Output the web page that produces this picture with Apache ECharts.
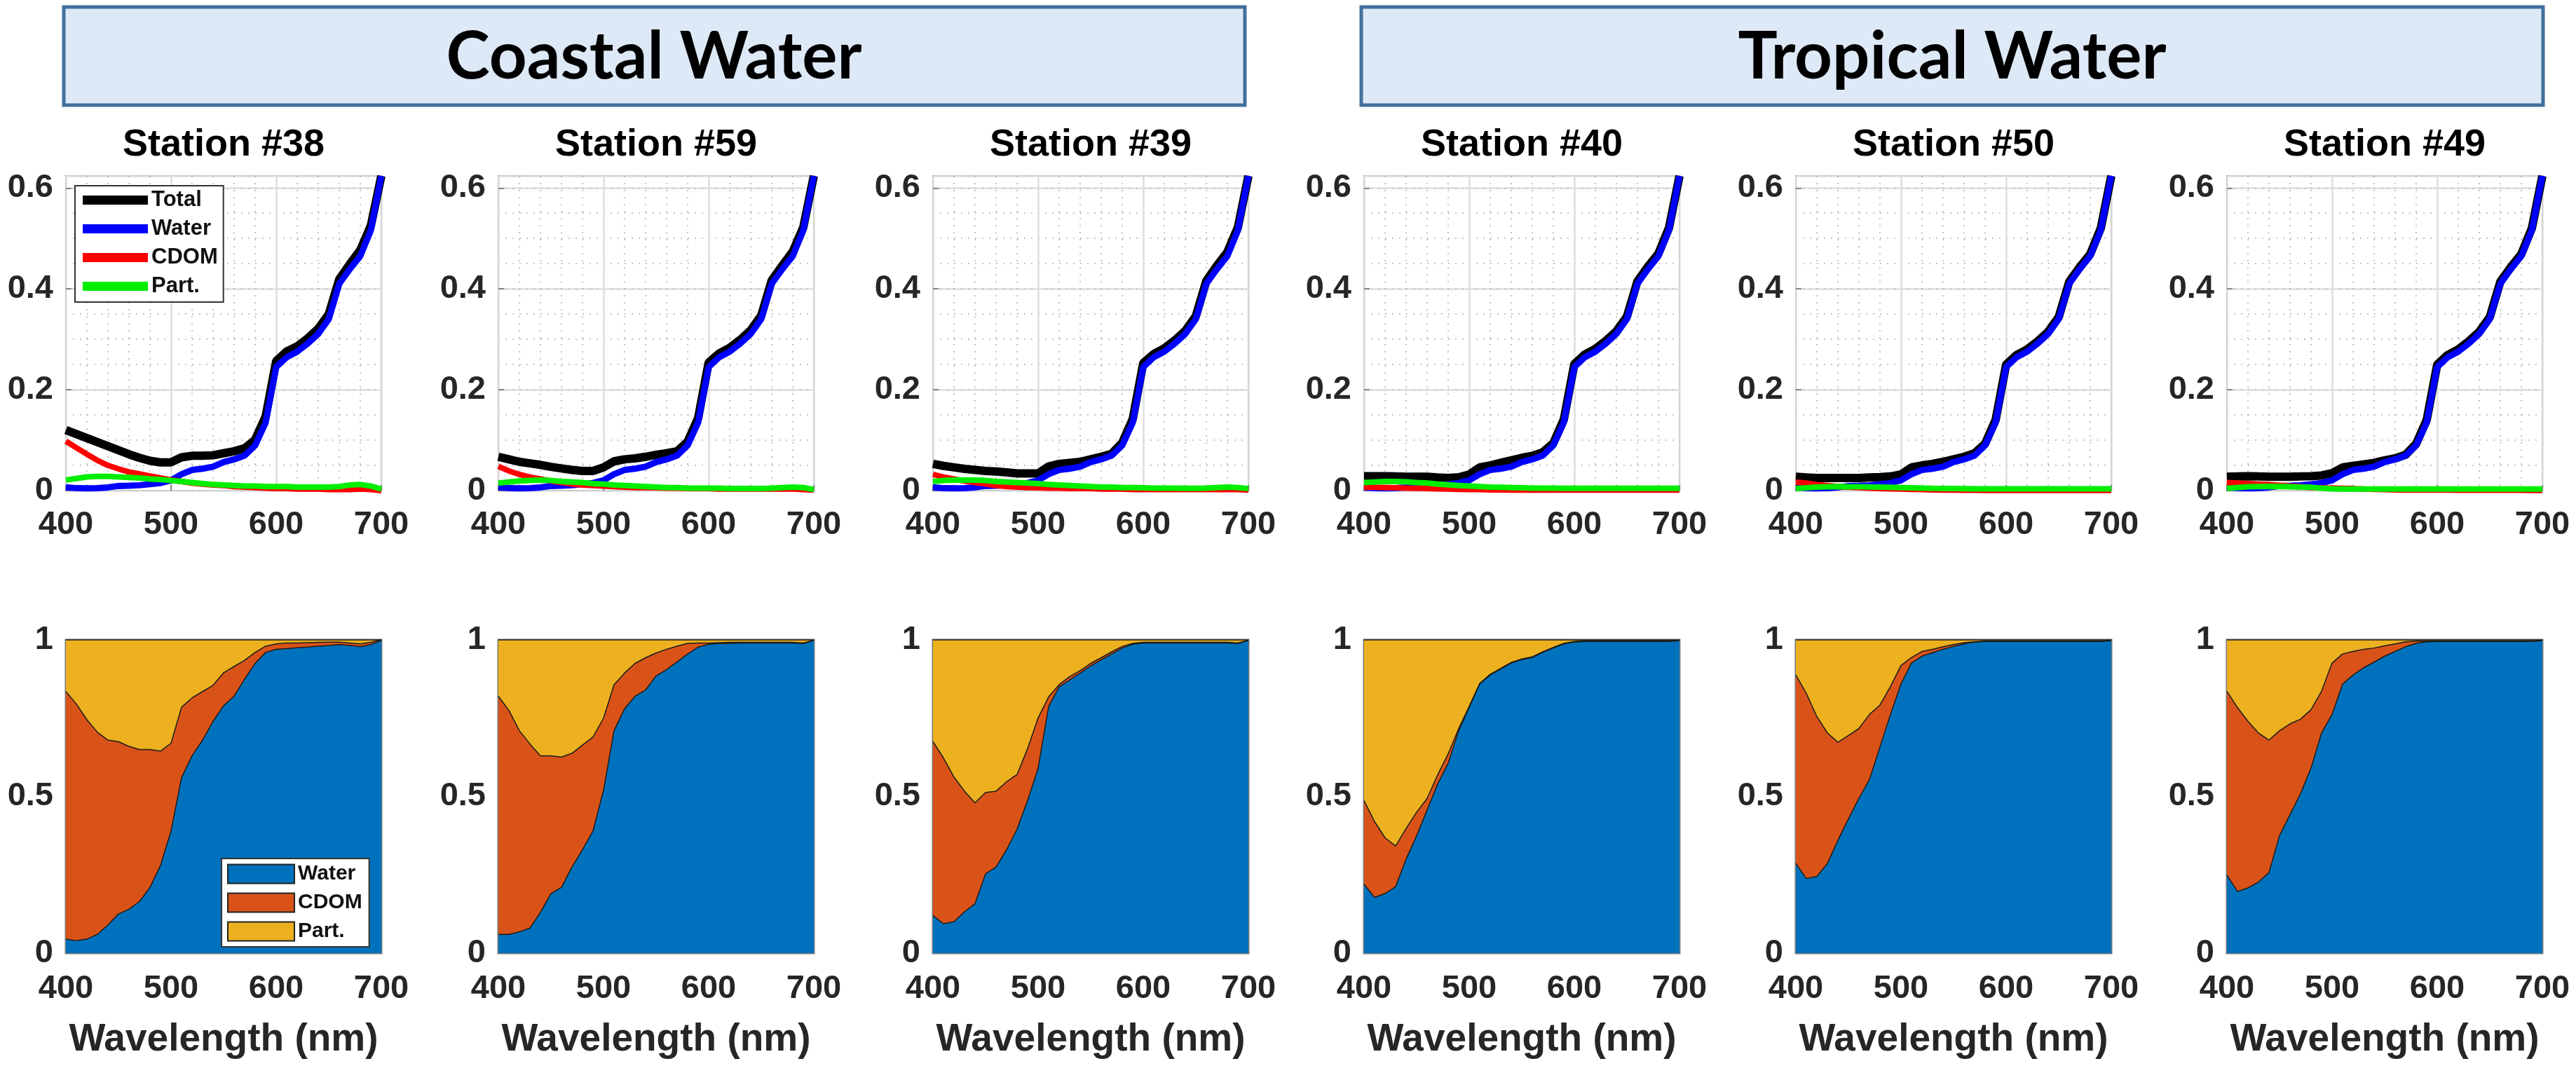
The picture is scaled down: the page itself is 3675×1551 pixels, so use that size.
<!DOCTYPE html>
<html>
<head>
<meta charset="utf-8">
<title>Absorption budget - coastal and tropical stations</title>
<script src="https://cdn.jsdelivr.net/npm/echarts@6/dist/echarts.min.js"></script>
<style>
  html, body { margin: 0; padding: 0; background: #fff; }
  #chart { width: 3675px; height: 1551px; }
</style>
</head>
<body>
<div id="chart"></div>
<script>
// wavelength grid (nm)
var wavelengths = [400, 410, 420, 430, 440, 450, 460, 470, 480, 490, 500, 510, 520, 530, 540, 550,
                   560, 570, 580, 590, 600, 610, 620, 630, 640, 650, 660, 670, 680, 690, 700];

var stationNames = ['Station #38', 'Station #59', 'Station #39', 'Station #40', 'Station #50', 'Station #49'];
var groupNames = ['Coastal Water', 'Tropical Water'];

// pure water absorption (same in every panel)
var waterAbs = [0.0066, 0.0047, 0.0045, 0.0050, 0.0064, 0.0092, 0.0098, 0.0106, 0.0127, 0.0150, 0.0204,
                0.0325, 0.0409, 0.0434, 0.0474, 0.0565, 0.0619, 0.0695, 0.0896, 0.1351, 0.2450, 0.2644,
                0.2755, 0.2916, 0.3108, 0.3400, 0.4100, 0.4390, 0.4650, 0.5160, 0.6240];

// ---- top row: absorption ----
var total38 = [0.120, 0.112, 0.104, 0.096, 0.088, 0.080, 0.072, 0.065, 0.059, 0.056, 0.056, 0.066, 0.069, 0.069, 0.070, 0.074,
               0.078, 0.084, 0.101, 0.147, 0.257, 0.276, 0.286, 0.302, 0.321, 0.350, 0.419, 0.449, 0.477, 0.525, 0.624];
var cdom38 = [0.098, 0.085, 0.072, 0.060, 0.050, 0.043, 0.037, 0.033, 0.029, 0.025, 0.021, 0.018, 0.015, 0.013, 0.011, 0.010,
              0.008, 0.007, 0.006, 0.005, 0.004, 0.004, 0.003, 0.003, 0.003, 0.002, 0.002, 0.002, 0.003, 0.002, 0.000];
var part38 = [0.021, 0.024, 0.027, 0.028, 0.028, 0.027, 0.026, 0.025, 0.023, 0.022, 0.020, 0.018, 0.016, 0.014, 0.012, 0.011,
              0.010, 0.009, 0.009, 0.008, 0.008, 0.008, 0.007, 0.007, 0.007, 0.007, 0.008, 0.011, 0.012, 0.009, 0.003];

var total59 = [0.067, 0.062, 0.057, 0.054, 0.051, 0.047, 0.044, 0.041, 0.039, 0.039, 0.046, 0.058, 0.062, 0.064, 0.067, 0.071,
               0.074, 0.078, 0.097, 0.144, 0.254, 0.272, 0.283, 0.299, 0.318, 0.347, 0.417, 0.446, 0.474, 0.522, 0.624];
var cdom59 = [0.048, 0.039, 0.032, 0.027, 0.023, 0.019, 0.016, 0.013, 0.011, 0.010, 0.009, 0.008, 0.007, 0.006, 0.006, 0.0055,
              0.005, 0.005, 0.004, 0.004, 0.004, 0.003, 0.003, 0.003, 0.003, 0.003, 0.003, 0.003, 0.003, 0.002, 0.001];
var part59 = [0.015, 0.017, 0.019, 0.020, 0.021, 0.020, 0.018, 0.017, 0.016, 0.014, 0.013, 0.011, 0.010, 0.009, 0.008, 0.007,
              0.006, 0.006, 0.005, 0.005, 0.005, 0.005, 0.004, 0.004, 0.004, 0.004, 0.005, 0.006, 0.007, 0.006, 0.002];

var total39 = [0.053, 0.049, 0.046, 0.043, 0.041, 0.039, 0.038, 0.036, 0.034, 0.034, 0.034, 0.048, 0.053, 0.055, 0.057, 0.062,
               0.067, 0.073, 0.095, 0.142, 0.253, 0.271, 0.282, 0.298, 0.317, 0.346, 0.416, 0.446, 0.473, 0.522, 0.624];
var cdom39 = [0.032, 0.027, 0.023, 0.019, 0.016, 0.013, 0.010, 0.008, 0.007, 0.006, 0.0055, 0.005, 0.005, 0.004, 0.004, 0.004,
              0.003, 0.003, 0.003, 0.002, 0.002, 0.002, 0.002, 0.002, 0.002, 0.002, 0.002, 0.002, 0.002, 0.002, 0.001];
var part39 = [0.018, 0.020, 0.021, 0.021, 0.021, 0.020, 0.018, 0.017, 0.016, 0.015, 0.014, 0.012, 0.011, 0.010, 0.009, 0.008,
              0.007, 0.007, 0.006, 0.006, 0.0055, 0.005, 0.005, 0.005, 0.0045, 0.0045, 0.005, 0.006, 0.007, 0.006, 0.004];

var total40 = [0.0285, 0.0285, 0.0285, 0.028, 0.0276, 0.0276, 0.0276, 0.026, 0.025, 0.0265, 0.032, 0.046, 0.050, 0.055, 0.060, 0.065,
               0.069, 0.076, 0.094, 0.141, 0.251, 0.270, 0.281, 0.297, 0.316, 0.345, 0.415, 0.444, 0.470, 0.521, 0.624];
var cdom40 = [0.007, 0.0065, 0.006, 0.0055, 0.005, 0.0045, 0.004, 0.0035, 0.003, 0.0025, 0.002, 0.002, 0.0015, 0.0015, 0.001, 0.001,
              0.001, 0.001, 0.001, 0.001, 0.001, 0.001, 0.001, 0.001, 0.001, 0.001, 0.001, 0.001, 0.001, 0.001, 0.001];
var part40 = [0.016, 0.017, 0.018, 0.018, 0.0175, 0.016, 0.015, 0.013, 0.0115, 0.010, 0.009, 0.008, 0.007, 0.0065, 0.006, 0.0055,
              0.005, 0.005, 0.0048, 0.0046, 0.0046, 0.0046, 0.0046, 0.0046, 0.0046, 0.0046, 0.0046, 0.0046, 0.0046, 0.0046, 0.0046];

var total50 = [0.0276, 0.026, 0.025, 0.025, 0.025, 0.025, 0.025, 0.026, 0.0267, 0.028, 0.032, 0.046, 0.050, 0.053, 0.057, 0.062,
               0.067, 0.074, 0.093, 0.140, 0.250, 0.269, 0.280, 0.296, 0.315, 0.344, 0.414, 0.443, 0.469, 0.520, 0.624];
var cdom50 = [0.0166, 0.015, 0.012, 0.010, 0.008, 0.007, 0.006, 0.005, 0.004, 0.0035, 0.003, 0.0025, 0.002, 0.0015, 0.0012, 0.001,
              0.0008, 0.0006, 0.0005, 0.0005, 0.0005, 0.0005, 0.0005, 0.0005, 0.0005, 0.0005, 0.0005, 0.0005, 0.0005, 0.0005, 0.0005];
var part50 = [0.004, 0.0055, 0.007, 0.0078, 0.008, 0.0078, 0.0075, 0.0072, 0.007, 0.0065, 0.006, 0.0055, 0.005, 0.0045, 0.0042, 0.004,
              0.0038, 0.0036, 0.0035, 0.0035, 0.0035, 0.0035, 0.0035, 0.0035, 0.0035, 0.0035, 0.0035, 0.0035, 0.0035, 0.0035, 0.0035];

var total49 = [0.0276, 0.028, 0.0285, 0.028, 0.0276, 0.0276, 0.0276, 0.028, 0.0285, 0.030, 0.0345, 0.046, 0.049, 0.052, 0.055, 0.060,
               0.064, 0.071, 0.093, 0.140, 0.250, 0.269, 0.280, 0.296, 0.315, 0.344, 0.414, 0.443, 0.469, 0.520, 0.624];
var cdom49 = [0.016, 0.015, 0.014, 0.013, 0.012, 0.0105, 0.009, 0.0075, 0.006, 0.0055, 0.005, 0.0045, 0.004, 0.003, 0.0025, 0.002,
              0.0015, 0.0012, 0.001, 0.001, 0.001, 0.001, 0.0008, 0.0008, 0.0008, 0.0006, 0.0006, 0.0006, 0.0006, 0.0005, 0.0005];
var part49 = [0.0045, 0.006, 0.0075, 0.008, 0.0085, 0.008, 0.0075, 0.007, 0.0065, 0.005, 0.0035, 0.0032, 0.003, 0.003, 0.003, 0.003,
              0.003, 0.003, 0.003, 0.003, 0.003, 0.003, 0.003, 0.003, 0.003, 0.003, 0.003, 0.003, 0.003, 0.003, 0.003];

// ---- bottom row: fraction of total absorption ----
var waterFrac38 = [0.045, 0.040, 0.045, 0.060, 0.090, 0.125, 0.140, 0.165, 0.210, 0.280, 0.390, 0.560, 0.630, 0.680, 0.740, 0.790,
                   0.820, 0.875, 0.925, 0.960, 0.970, 0.972, 0.975, 0.977, 0.980, 0.982, 0.985, 0.982, 0.978, 0.985, 0.998];
var cdomFrac38 = [0.790, 0.755, 0.700, 0.645, 0.590, 0.550, 0.520, 0.485, 0.440, 0.365, 0.280, 0.225, 0.185, 0.155, 0.115, 0.105,
                  0.095, 0.060, 0.035, 0.020, 0.017, 0.018, 0.015, 0.014, 0.012, 0.011, 0.008, 0.008, 0.009, 0.007, 0.002];
var partFrac38 = [0.165, 0.205, 0.255, 0.295, 0.320, 0.325, 0.340, 0.350, 0.350, 0.355, 0.330, 0.215, 0.185, 0.165, 0.145, 0.105,
                  0.085, 0.065, 0.040, 0.020, 0.013, 0.010, 0.010, 0.009, 0.008, 0.007, 0.007, 0.010, 0.013, 0.008, 0.000];

var waterFrac59 = [0.060, 0.060, 0.068, 0.080, 0.130, 0.190, 0.210, 0.275, 0.330, 0.390, 0.520, 0.710, 0.780, 0.820, 0.840, 0.885,
                   0.905, 0.930, 0.955, 0.977, 0.986, 0.988, 0.989, 0.990, 0.990, 0.990, 0.990, 0.990, 0.990, 0.988, 0.998];
var cdomFrac59 = [0.760, 0.715, 0.642, 0.588, 0.500, 0.440, 0.416, 0.363, 0.334, 0.300, 0.230, 0.147, 0.114, 0.105, 0.103, 0.073,
                  0.065, 0.050, 0.034, 0.013, 0.004, 0.003, 0.003, 0.002, 0.002, 0.002, 0.002, 0.002, 0.002, 0.002, 0.001];
var partFrac59 = [0.180, 0.225, 0.290, 0.332, 0.370, 0.370, 0.374, 0.362, 0.336, 0.310, 0.250, 0.143, 0.106, 0.075, 0.057, 0.042,
                  0.030, 0.020, 0.011, 0.010, 0.010, 0.009, 0.008, 0.008, 0.008, 0.008, 0.008, 0.008, 0.008, 0.010, 0.001];

var waterFrac39 = [0.120, 0.094, 0.100, 0.132, 0.158, 0.253, 0.275, 0.330, 0.396, 0.487, 0.590, 0.787, 0.850, 0.872, 0.894, 0.917,
                   0.936, 0.955, 0.974, 0.986, 0.990, 0.990, 0.990, 0.990, 0.990, 0.990, 0.990, 0.990, 0.990, 0.988, 0.998];
var cdomFrac39 = [0.555, 0.529, 0.462, 0.385, 0.322, 0.260, 0.242, 0.217, 0.174, 0.166, 0.161, 0.031, 0.007, 0.011, 0.008, 0.008,
                  0.007, 0.007, 0.005, 0.003, 0.002, 0.002, 0.002, 0.002, 0.002, 0.002, 0.002, 0.002, 0.002, 0.002, 0.001];
var partFrac39 = [0.325, 0.377, 0.438, 0.483, 0.520, 0.487, 0.483, 0.453, 0.430, 0.347, 0.249, 0.182, 0.143, 0.117, 0.098, 0.075,
                  0.057, 0.038, 0.021, 0.011, 0.008, 0.008, 0.008, 0.008, 0.008, 0.008, 0.008, 0.008, 0.008, 0.010, 0.001];

var waterFrac40 = [0.220, 0.178, 0.190, 0.212, 0.300, 0.375, 0.457, 0.540, 0.606, 0.710, 0.784, 0.859, 0.888, 0.907, 0.926, 0.937,
                   0.944, 0.960, 0.974, 0.987, 0.993, 0.995, 0.995, 0.995, 0.995, 0.995, 0.995, 0.995, 0.995, 0.995, 0.998];
var cdomFrac40 = [0.267, 0.242, 0.178, 0.130, 0.098, 0.075, 0.037, 0.029, 0.030, 0.007, 0.004, 0.002, 0.002, 0.002, 0.002, 0.002,
                  0.002, 0.002, 0.002, 0.002, 0.002, 0.002, 0.002, 0.002, 0.002, 0.002, 0.002, 0.002, 0.002, 0.002, 0.001];
var partFrac40 = [0.513, 0.580, 0.632, 0.658, 0.602, 0.550, 0.506, 0.431, 0.364, 0.283, 0.212, 0.139, 0.110, 0.091, 0.072, 0.061,
                  0.054, 0.038, 0.024, 0.011, 0.005, 0.003, 0.003, 0.003, 0.003, 0.003, 0.003, 0.003, 0.003, 0.003, 0.001];

var waterFrac50 = [0.286, 0.238, 0.245, 0.286, 0.360, 0.428, 0.494, 0.554, 0.658, 0.762, 0.859, 0.926, 0.948, 0.959, 0.970, 0.979,
                   0.987, 0.993, 0.995, 0.995, 0.995, 0.995, 0.995, 0.995, 0.995, 0.995, 0.995, 0.995, 0.995, 0.995, 0.998];
var cdomFrac50 = [0.602, 0.591, 0.510, 0.417, 0.313, 0.267, 0.223, 0.208, 0.134, 0.089, 0.059, 0.018, 0.015, 0.011, 0.008, 0.006,
                  0.004, 0.001, 0.001, 0.001, 0.001, 0.001, 0.001, 0.001, 0.001, 0.001, 0.001, 0.001, 0.001, 0.001, 0.001];
var partFrac50 = [0.112, 0.171, 0.245, 0.297, 0.327, 0.305, 0.283, 0.238, 0.208, 0.149, 0.082, 0.056, 0.037, 0.030, 0.022, 0.015,
                  0.009, 0.006, 0.004, 0.004, 0.004, 0.004, 0.004, 0.004, 0.004, 0.004, 0.004, 0.004, 0.004, 0.004, 0.001];

var waterFrac49 = [0.249, 0.197, 0.208, 0.227, 0.257, 0.375, 0.442, 0.509, 0.591, 0.703, 0.762, 0.859, 0.888, 0.911, 0.929, 0.948,
                   0.963, 0.978, 0.989, 0.994, 0.995, 0.995, 0.995, 0.995, 0.995, 0.995, 0.995, 0.995, 0.995, 0.995, 0.998];
var cdomFrac49 = [0.587, 0.587, 0.532, 0.476, 0.423, 0.335, 0.290, 0.238, 0.186, 0.133, 0.164, 0.096, 0.075, 0.059, 0.045, 0.033,
                  0.024, 0.016, 0.007, 0.002, 0.001, 0.001, 0.001, 0.001, 0.001, 0.001, 0.001, 0.001, 0.001, 0.001, 0.001];
var partFrac49 = [0.164, 0.216, 0.260, 0.297, 0.320, 0.290, 0.268, 0.253, 0.223, 0.164, 0.074, 0.045, 0.037, 0.030, 0.026, 0.019,
                  0.013, 0.006, 0.004, 0.004, 0.004, 0.004, 0.004, 0.004, 0.004, 0.004, 0.004, 0.004, 0.004, 0.004, 0.001];

var absYTicks = [0, 0.2, 0.4, 0.6];
var xTicks = [400, 500, 600, 700];

var totalAbs = [total38, total59, total39, total40, total50, total49];
var cdomAbs = [cdom38, cdom59, cdom39, cdom40, cdom50, cdom49];
var partAbs = [part38, part59, part39, part40, part50, part49];
var waterFrac = [waterFrac38, waterFrac59, waterFrac39, waterFrac40, waterFrac50, waterFrac49];
var cdomFrac = [cdomFrac38, cdomFrac59, cdomFrac39, cdomFrac40, cdomFrac50, cdomFrac49];
var partFrac = [partFrac38, partFrac59, partFrac39, partFrac40, partFrac50, partFrac49];

var chart = echarts.init(document.getElementById('chart'));
var font = '"Liberation Sans", Arial, sans-serif';
var gridLeft = [94, 711, 1331, 1946, 2562, 3177];
var plotW = 450;
var absMax = 0.624;

function pairs(ys) {
    return wavelengths.map(function (w, i) { return [w, ys[i]]; });
}

var labelStyle = { fontFamily: font, fontSize: 47, fontWeight: 'bold', color: '#262626' };

var grids = [], xAxes = [], yAxes = [], series = [], graphics = [];

// header boxes
graphics.push({ type: 'rect', shape: { x: 91, y: 10, width: 1685, height: 140 },
    style: { fill: '#dde9f6', stroke: '#41719c', lineWidth: 5 } });
graphics.push({ type: 'rect', shape: { x: 1942, y: 10, width: 1686, height: 140 },
    style: { fill: '#dde9f6', stroke: '#41719c', lineWidth: 5 } });
graphics.push({ type: 'text', x: 933, y: 82,
    style: { text: groupNames[0], fill: '#000', font: 'bold 94px Lato, "Open Sans", sans-serif', align: 'center', verticalAlign: 'middle' } });
graphics.push({ type: 'text', x: 2785, y: 82,
    style: { text: groupNames[1], fill: '#000', font: 'bold 94px Lato, "Open Sans", sans-serif', align: 'center', verticalAlign: 'middle' } });

for (var i = 0; i < 6; i++) {
    var absIdx = 2 * i, fracIdx = 2 * i + 1;

    graphics.push({ type: 'text', x: gridLeft[i] + plotW / 2, y: 207,
        style: { text: stationNames[i], fill: '#000', font: 'bold 54px ' + font, align: 'center', verticalAlign: 'middle' } });

    // absorption panel
    grids.push({ left: gridLeft[i], top: 251, width: plotW, height: 449,
        show: true, borderColor: '#8a8a8a', borderWidth: 2, backgroundColor: '#fff' });
    // fraction panel
    grids.push({ left: gridLeft[i], top: 913, width: plotW, height: 447,
        show: true, borderColor: '#7a7a7a', borderWidth: 3, backgroundColor: '#fff' });

    xAxes.push({
        gridIndex: absIdx, type: 'value', min: 400, max: 700, interval: 100,
        axisLine: { show: false },
        axisTick: { show: true, inside: true, length: 8, lineStyle: { color: '#888', width: 2 } },
        splitLine: { show: true, lineStyle: { color: '#dedede', width: 2.5 } },
        minorTick: { show: false, splitNumber: 5 },
        minorSplitLine: { show: true, lineStyle: { color: '#c4c4c4', width: 2, type: [2, 8] } },
        axisLabel: Object.assign({ margin: 26 }, labelStyle)
    });
    // category axis so the three fraction layers stack on the value axis
    xAxes.push({
        gridIndex: fracIdx, type: 'category', data: wavelengths, boundaryGap: false,
        axisLine: { show: false }, axisTick: { show: false }, splitLine: { show: false },
        axisLabel: Object.assign({ margin: 28, interval: function (idx, val) { return xTicks.indexOf(+val) >= 0; } }, labelStyle),
        name: 'Wavelength (nm)', nameLocation: 'middle', nameGap: 96,
        nameTextStyle: { fontFamily: font, fontSize: 55, fontWeight: 'bold', color: '#262626' }
    });

    yAxes.push({
        gridIndex: absIdx, type: 'value', min: 0, max: absMax, interval: 0.2,
        axisLine: { show: false },
        axisTick: { show: true, inside: true, length: 8, lineStyle: { color: '#888', width: 2 } },
        splitLine: { show: true, lineStyle: { color: '#dedede', width: 2.5 } },
        axisLabel: Object.assign({ margin: 18, showMaxLabel: false,
            formatter: function (v) { var r = Math.round(v * 10) / 10; return absYTicks.indexOf(r) >= 0 && Math.abs(v - r) < 1e-6 ? String(r) : ''; } }, labelStyle)
    });
    // helper axis carrying the dotted minor grid every 0.05
    yAxes.push({
        gridIndex: absIdx, type: 'value', min: 0, max: absMax, interval: 0.05, position: 'left',
        axisLine: { show: false }, axisTick: { show: false }, axisLabel: { show: false },
        splitLine: { show: true, lineStyle: { color: '#c4c4c4', width: 2, type: [2, 8] } }
    });
    yAxes.push({
        gridIndex: fracIdx, type: 'value', min: 0, max: 1, interval: 0.5,
        axisLine: { show: false }, axisTick: { show: false }, splitLine: { show: false },
        axisLabel: Object.assign({ margin: 18, formatter: function (v) { return String(v); } }, labelStyle)
    });

    var lines = [
        { name: 'Total', data: totalAbs[i], color: '#000000', width: 12 },
        { name: 'Water', data: waterAbs, color: '#0000ff', width: 9 },
        { name: 'CDOM', data: cdomAbs[i], color: '#ff0000', width: 8 },
        { name: 'Part.', data: partAbs[i], color: '#00ee00', width: 8 }
    ];
    lines.forEach(function (l) {
        series.push({
            name: l.name, type: 'line', xAxisIndex: absIdx, yAxisIndex: 3 * i,
            data: pairs(l.data), symbol: 'none', silent: true,
            lineStyle: { color: l.color, width: l.width },
            itemStyle: { color: l.color }
        });
    });

    var areas = [
        { name: 'frac:Water', data: waterFrac[i], color: '#0072bd' },
        { name: 'frac:CDOM', data: cdomFrac[i], color: '#d95319' },
        { name: 'frac:Part.', data: partFrac[i], color: '#edb120' }
    ];
    areas.forEach(function (a) {
        series.push({
            name: a.name, type: 'line', xAxisIndex: fracIdx, yAxisIndex: 3 * i + 2,
            stack: 'frac' + i, data: a.data, symbol: 'none', silent: true,
            lineStyle: { color: '#1a1a1a', width: 1.5 },
            areaStyle: { color: a.color, opacity: 1 },
            itemStyle: { color: a.color }
        });
    });
}

chart.setOption({
    animation: false,
    backgroundColor: '#fff',
    grid: grids,
    xAxis: xAxes,
    yAxis: yAxes,
    series: series,
    graphic: graphics,
    legend: [{
        data: ['Total', 'Water', 'CDOM', 'Part.'],
        orient: 'vertical', left: 107, top: 265, icon: 'rect',
        itemWidth: 93, itemHeight: 13, itemGap: 10, padding: [5, 8, 7, 11],
        borderColor: '#333', borderWidth: 2, backgroundColor: '#fff',
        selectedMode: false,
        textStyle: { fontFamily: font, fontSize: 31, fontWeight: 'bold', color: '#111' }
    }, {
        data: ['frac:Water', 'frac:CDOM', 'frac:Part.'],
        formatter: function (n) { return n.replace('frac:', ''); },
        orient: 'vertical', left: 316, top: 1225, icon: 'rect',
        itemWidth: 95, itemHeight: 27, itemGap: 11, padding: [7, 10, 7, 8],
        borderColor: '#333', borderWidth: 2, backgroundColor: '#fff',
        selectedMode: false,
        itemStyle: { borderColor: '#222', borderWidth: 2 },
        textStyle: { fontFamily: font, fontSize: 30, fontWeight: 'bold', color: '#111' }
    }]
});
</script>
</body>
</html>
